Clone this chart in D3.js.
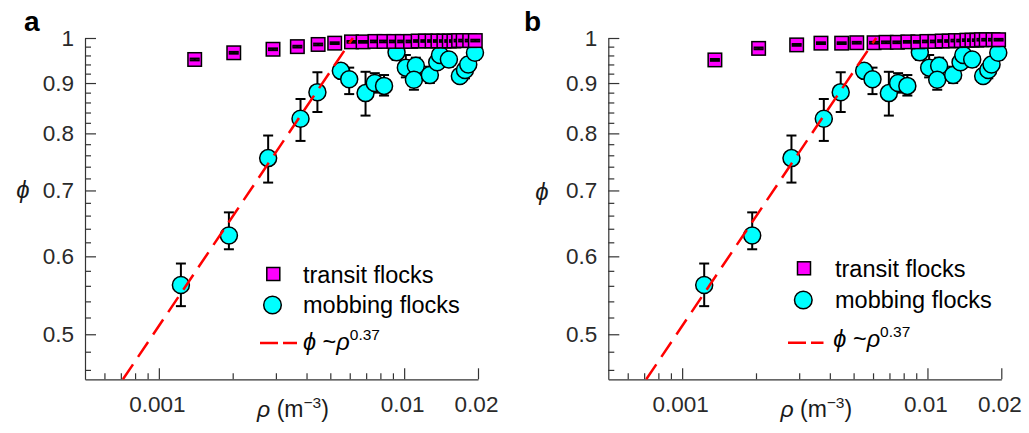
<!DOCTYPE html>
<html><head><meta charset="utf-8">
<script src="https://cdn.jsdelivr.net/npm/d3@7"></script>
<style>
body{margin:0;background:#fff}
svg{display:block}
text{font-family:'Liberation Sans',Arial,Helvetica,sans-serif}
</style>
</head><body>
<svg id="chart" width="1029" height="433"></svg>
<script>
// ---------- data ----------
const xDomain = [0.0005, 0.02];
const yDomain = [0.45, 1];
const xTickValues = [0.001, 0.01, 0.02];
const xTickLabels = ["0.001", "0.01", "0.02"];
const xMinorTicks = [0.0006, 0.0007, 0.0008, 0.0009, 0.002, 0.003, 0.004, 0.005, 0.006, 0.007, 0.008, 0.009];
const yTickValues = [0.5, 0.6, 0.7, 0.8, 0.9, 1];
const yTickLabels = ["0.5", "0.6", "0.7", "0.8", "0.9", "1"];
const yMinorTicks = [0.46, 0.48, 0.52, 0.54, 0.56, 0.58, 0.62, 0.64, 0.66, 0.68, 0.72, 0.74, 0.76, 0.78,
                     0.82, 0.84, 0.86, 0.88, 0.92, 0.94, 0.96, 0.98];

// transit flocks, panel a
const transitRhoA = [0.0014, 0.00202, 0.00292, 0.00367, 0.00446, 0.00521, 0.0061, 0.0068, 0.0076, 0.00828,
                     0.00908, 0.00982, 0.01062, 0.0114, 0.0122, 0.013, 0.01373, 0.01452, 0.01527, 0.01595,
                     0.01667, 0.0174, 0.0185, 0.0195];
const transitPhiA = [0.951, 0.966, 0.974, 0.980, 0.985, 0.988, 0.991, 0.991, 0.992, 0.992,
                     0.992, 0.992, 0.992, 0.993, 0.993, 0.993, 0.993, 0.993, 0.993, 0.993,
                     0.994, 0.994, 0.994, 0.994];
// transit flocks, panel b
const transitRhoB = [0.00136, 0.00205, 0.00293, 0.00368, 0.00447, 0.00515, 0.00606, 0.00678, 0.00754, 0.00832,
                     0.00914, 0.00995, 0.01072, 0.01148, 0.01226, 0.01301, 0.01373, 0.01448, 0.01518, 0.0159,
                     0.0166, 0.01736, 0.0185, 0.0195];
const transitPhiB = [0.950, 0.976, 0.984, 0.988, 0.988, 0.989, 0.989, 0.990, 0.990, 0.991,
                     0.991, 0.992, 0.992, 0.993, 0.993, 0.994, 0.994, 0.995, 0.995, 0.995,
                     0.996, 0.996, 0.996, 0.996];
const transitErr = 0.002;

// mobbing flocks (same in both panels)
const mobRho = [0.00123, 0.00193, 0.00279, 0.00378, 0.00443, 0.00552, 0.00597, 0.00696, 0.00759, 0.00828,
                0.00931, 0.01016, 0.01116, 0.01096, 0.01273, 0.01364, 0.0140, 0.01522, 0.01687, 0.0177,
                0.01825, 0.01944];
const mobPhi = [0.561, 0.630, 0.755, 0.828, 0.881, 0.926, 0.908, 0.879, 0.900, 0.894,
                0.967, 0.933, 0.937, 0.907, 0.917, 0.945, 0.961, 0.951, 0.915, 0.928,
                0.940, 0.966];
const mobLo  = [0.534, 0.610, 0.713, 0.786, 0.841, 0.912, 0.877, 0.834, 0.880, 0.874,
                0.950, 0.912, 0.920, 0.886, 0.900, 0.930, 0.945, 0.935, 0.900, 0.910,
                0.925, 0.950];
const mobHi  = [0.590, 0.665, 0.796, 0.867, 0.923, 0.940, 0.933, 0.924, 0.921, 0.917,
                0.985, 0.961, 0.955, 0.925, 0.935, 0.960, 0.975, 0.965, 0.930, 0.945,
                0.955, 0.980];

// power-law fit  phi ~ rho^0.37
const fitExponent = 0.37;
const fitPrefactor = 6.567;
const fitRhoRange = [0.000714, 0.00618];

// ---------- drawing ----------
const svg = d3.select("#chart");
const axisColor = "#333";
const FONT = "'Liberation Sans',Arial,Helvetica,sans-serif";

function drawPanel(cfg) {
  const x = d3.scaleLog().domain(xDomain).range([cfg.left, cfg.left + 393]);
  const y = d3.scaleLog().domain(yDomain).range([379.3, 38]);
  const g = svg.append("g");

  // axes
  const xMinor = g.append("g").attr("transform", "translate(0,379.3)")
    .call(d3.axisBottom(x).tickValues(xMinorTicks).tickSizeInner(-6).tickSizeOuter(0).tickFormat(""));
  xMinor.select(".domain").remove();
  const xMajor = g.append("g").attr("transform", "translate(0,379.3)")
    .call(d3.axisBottom(x).tickValues(xTickValues).tickSizeInner(-11).tickSizeOuter(0)
      .tickPadding(17).tickFormat((d, i) => xTickLabels[i]));
  const yMinor = g.append("g").attr("transform", `translate(${cfg.left},0)`)
    .call(d3.axisLeft(y).tickValues(yMinorTicks).tickSizeInner(-6).tickSizeOuter(0).tickFormat(""));
  yMinor.select(".domain").remove();
  const yMajor = g.append("g").attr("transform", `translate(${cfg.left},0)`)
    .call(d3.axisLeft(y).tickValues(yTickValues).tickSizeInner(-11).tickSizeOuter(0)
      .tickPadding(11).tickFormat((d, i) => yTickLabels[i]));
  [xMinor, xMajor, yMinor, yMajor].forEach(a => {
    a.attr("color", axisColor);
    a.selectAll("line").attr("stroke-width", 1.2);
    a.selectAll(".domain").attr("stroke-width", 1.2);
    a.selectAll("text").attr("font-size", 22.5).attr("fill", "#2a2a2a").attr("font-family", FONT);
  });
  xMajor.selectAll("text").attr("dx", -2);

  // axis titles
  const xt = g.append("text").attr("x", cfg.left + 208).attr("y", 417)
    .attr("text-anchor", "middle").attr("font-size", 23).attr("fill", "#1a1a1a");
  xt.append("tspan").attr("font-style", "italic").text("ρ");
  xt.append("tspan").text(" (m");
  xt.append("tspan").attr("font-size", 15.5).attr("dy", -9).text("−3");
  xt.append("tspan").attr("dy", 9).text(")");

  g.append("text").attr("x", cfg.ylabX).attr("y", cfg.ylabY)
    .attr("text-anchor", "middle").attr("dy", "0.35em").attr("font-size", 24)
    .attr("font-style", "italic").attr("fill", "#1a1a1a").text("ϕ");

  g.append("text").attr("x", cfg.letterX).attr("y", 30.7).attr("font-size", 28)
    .attr("font-weight", "bold").attr("fill", "#000").text(cfg.letter);

  // mobbing error bars
  const mob = mobRho.map((r, i) => ({r, p: mobPhi[i], lo: mobLo[i], hi: mobHi[i]}));
  const eb = g.append("g").attr("stroke", "#000").attr("stroke-width", 2);
  mob.forEach(d => {
    eb.append("line").attr("x1", x(d.r)).attr("x2", x(d.r)).attr("y1", y(d.lo)).attr("y2", y(d.hi));
    [d.lo, d.hi].forEach(v => eb.append("line").attr("x1", x(d.r) - 5).attr("x2", x(d.r) + 5)
      .attr("y1", y(v)).attr("y2", y(v)));
  });
  g.append("g").selectAll("circle").data(mob).join("circle")
    .attr("cx", d => x(d.r)).attr("cy", d => y(d.p)).attr("r", 8.5)
    .attr("fill", "#00ffff").attr("stroke", "#000").attr("stroke-width", 1.5);

  // transit squares
  const tr = cfg.tRho.map((r, i) => ({r, p: cfg.tPhi[i]}));
  const sq = g.append("g");
  tr.forEach(d => {
    const cx = x(d.r), cy = y(d.p);
    sq.append("rect").attr("x", cx - 6.75).attr("y", cy - 6.75).attr("width", 13.5).attr("height", 13.5)
      .attr("fill", "#ff00ff").attr("stroke", "#000").attr("stroke-width", 1.5);
    const lo = y(d.p - transitErr), hi = y(d.p + transitErr);
    sq.append("line").attr("x1", cx).attr("x2", cx).attr("y1", lo).attr("y2", hi)
      .attr("stroke", "#000").attr("stroke-width", 2);
    [lo, hi].forEach(v => sq.append("line").attr("x1", cx - 5).attr("x2", cx + 5).attr("y1", v).attr("y2", v)
      .attr("stroke", "#000").attr("stroke-width", 2));
  });

  // fit line
  const fit = fitRhoRange.map(r => ({r, p: fitPrefactor * Math.pow(r, fitExponent)}));
  g.append("path").datum(fit)
    .attr("d", d3.line().x(d => x(d.r)).y(d => y(d.p)))
    .attr("fill", "none").attr("stroke", "#ff0000").attr("stroke-width", 2.5)
    .attr("stroke-dasharray", "18,9");

  // legend
  const L = cfg.legend;
  g.append("rect").attr("x", L.sq[0] - 6.5).attr("y", L.sq[1] - 6.5).attr("width", 13).attr("height", 13)
    .attr("fill", "#ff00ff").attr("stroke", "#000").attr("stroke-width", 1.5);
  g.append("text").attr("x", L.tx).attr("y", L.t1).attr("font-size", 23.5).attr("fill", "#000").text("transit flocks");
  g.append("circle").attr("cx", L.ci[0]).attr("cy", L.ci[1]).attr("r", 8.8)
    .attr("fill", "#00ffff").attr("stroke", "#000").attr("stroke-width", 1.5);
  g.append("text").attr("x", L.tx).attr("y", L.t2).attr("font-size", 23.5).attr("fill", "#000").text("mobbing flocks");
  g.append("line").attr("x1", L.ln[0]).attr("x2", L.ln[1]).attr("y1", L.ln[2]).attr("y2", L.ln[2])
    .attr("stroke", "#ff0000").attr("stroke-width", 2.5).attr("stroke-dasharray", "18,5");
  const lt = g.append("text").attr("x", L.tx3).attr("y", L.t3).attr("font-size", 23.5).attr("fill", "#000");
  lt.append("tspan").attr("font-style", "italic").text("ϕ");
  lt.append("tspan").text(" ~");
  lt.append("tspan").attr("font-style", "italic").text("ρ");
  lt.append("tspan").attr("font-size", 15.5).attr("dy", -10).text("0.37");
}

drawPanel({
  left: 85, letter: "a", letterX: 24, ylabX: 23, ylabY: 190,
  tRho: transitRhoA, tPhi: transitPhiA,
  legend: {sq: [273.3, 274], ci: [272.5, 305], ln: [260, 297, 343], tx: 303, tx3: 303, t1: 282.7, t2: 313.3, t3: 350}
});
drawPanel({
  left: 608.3, letter: "b", letterX: 524, ylabX: 542, ylabY: 192,
  tRho: transitRhoB, tPhi: transitPhiB,
  legend: {sq: [804, 268.3], ci: [803.3, 300], ln: [788, 823.5, 342.7], tx: 835, tx3: 833.3, t1: 277.3, t2: 308.3, t3: 346.7}
});
</script>
</body></html>
